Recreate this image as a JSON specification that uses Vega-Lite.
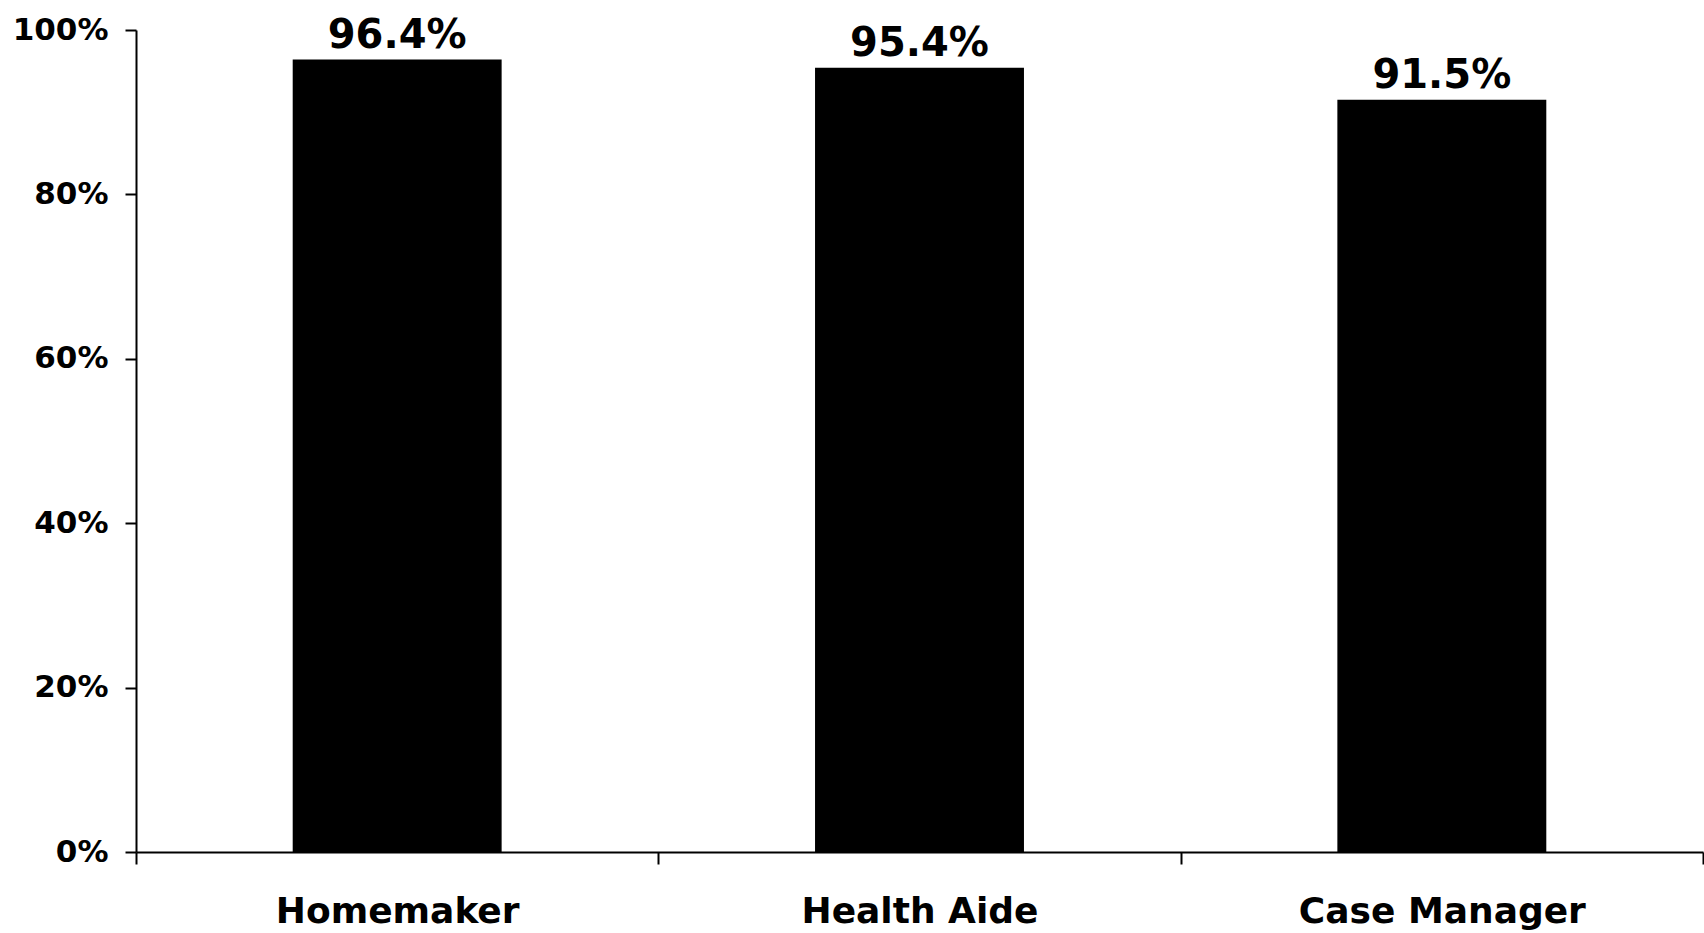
{
  "$schema": "https://vega.github.io/schema/vega-lite/v6.json",
  "width": 1567,
  "height": 822,
  "autosize": {"type": "none"},
  "padding": {"left": 136, "top": 30, "right": 1, "bottom": 81},
  "background": "white",
  "config": {"view": {"stroke": null}, "font": "DejaVu Sans"},
  "data": {
    "values": [
      {"role": "Homemaker", "pct": 0.964},
      {"role": "Health Aide", "pct": 0.954},
      {"role": "Case Manager", "pct": 0.915}
    ]
  },
  "encoding": {
    "x": {
      "field": "role",
      "type": "nominal",
      "sort": null,
      "scale": {"paddingInner": 0, "paddingOuter": 0},
      "axis": {
        "title": null,
        "labelAngle": 0,
        "labelLimit": 0,
        "domainColor": "black",
        "domainWidth": 2,
        "tickColor": "black",
        "tickWidth": 2,
        "tickSize": 12,
        "tickBand": "extent",
        "labelFont": "DejaVu Sans",
        "labelFontWeight": "bold",
        "labelFontSize": 36,
        "labelColor": "black",
        "labelBaseline": "alphabetic",
        "labelPadding": 58
      }
    },
    "y": {
      "field": "pct",
      "type": "quantitative",
      "scale": {"domain": [0, 1]},
      "axis": {
        "title": null,
        "values": [0, 0.2, 0.4, 0.6, 0.8, 1],
        "format": ".0%",
        "grid": false,
        "domainColor": "black",
        "domainWidth": 2,
        "tickColor": "black",
        "tickWidth": 2,
        "tickSize": 11,
        "labelPadding": 17,
        "labelFont": "DejaVu Sans",
        "labelFontWeight": "bold",
        "labelFontSize": 31,
        "labelColor": "black"
      }
    }
  },
  "layer": [
    {"mark": {"type": "bar", "color": "black", "width": {"band": 0.4}}},
    {
      "mark": {
        "type": "text",
        "font": "DejaVu Sans",
        "fontWeight": "bold",
        "fontSize": 40,
        "baseline": "alphabetic",
        "dy": -12,
        "color": "black"
      },
      "encoding": {"text": {"field": "pct", "type": "quantitative", "format": ".1%"}}
    }
  ]
}
